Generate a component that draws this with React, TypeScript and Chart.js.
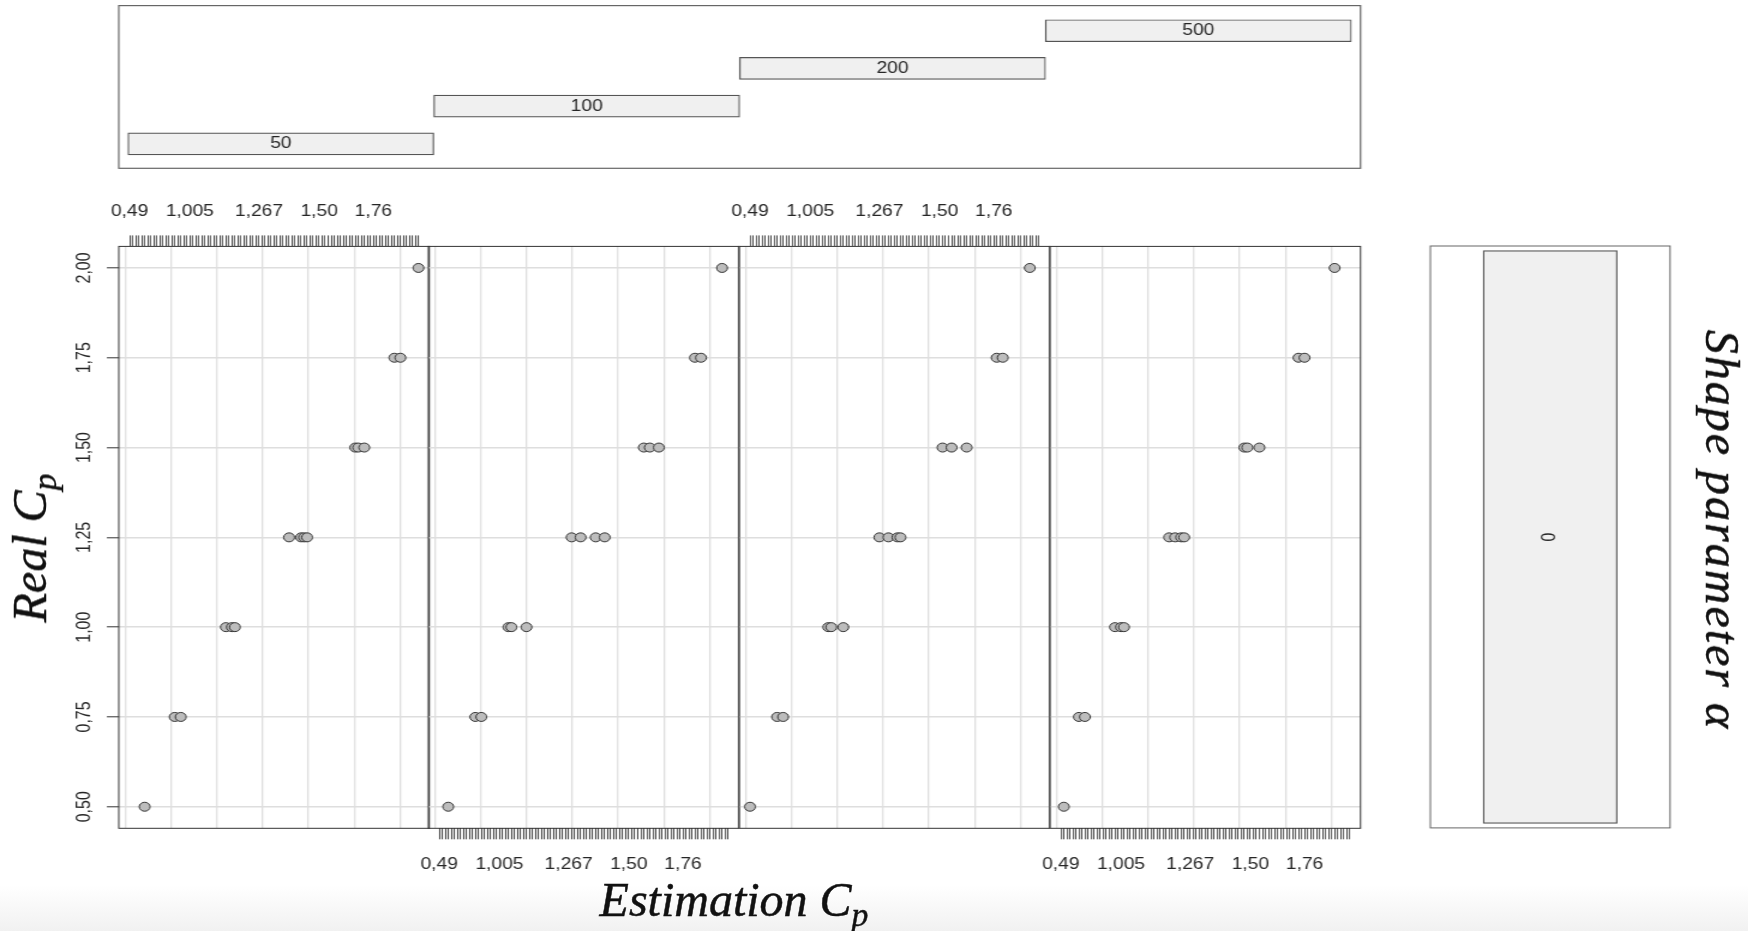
import React, { useEffect, useRef } from 'react';
import { Chart, registerables } from 'chart.js';

Chart.register(...registerables);

// ---------------- data ----------------
const SAMPLE_SIZES = ['50', '100', '200', '500'];
const SHAPE_LEVELS = ['0'];
const REAL_CP_TICKS = [0.5, 0.75, 1.0, 1.25, 1.5, 1.75, 2.0];
const REAL_CP_TICK_LABELS = ['0,50', '0,75', '1,00', '1,25', '1,50', '1,75', '2,00'];
// the estimation axis is a factor with 97 levels; only some are labelled
const EST_LEVEL_COUNT = 97;
const EST_LABEL_POS = [0, 20, 43, 63, 81];
const EST_LABELS = ['0,49', '1,005', '1,267', '1,50', '1,76'];
const EST_GRID_POS = [-1.2, 13.7, 29.0, 44.2, 59.4, 74.7, 90.0];

const REAL_CP_VALUES = [0.5, 0.75, 0.75, 1, 1, 1, 1.25, 1.25, 1.25, 1.25, 1.5, 1.5, 1.5, 1.75, 1.75, 2];
const EST_N50 = [5, 15, 17, 32, 34, 35, 53, 57, 58, 59, 75, 76, 78, 88, 90, 96];
const EST_N100 = [3, 12, 14, 23, 24, 29, 44, 47, 52, 55, 68, 70, 73, 85, 87, 94];
const EST_N200 = [0, 9, 11, 26, 27, 31, 43, 46, 49, 50, 64, 67, 72, 82, 84, 93];
const EST_N500 = [1, 6, 8, 18, 20, 21, 36, 38, 40, 41, 61, 62, 66, 79, 81, 91];

const PANEL_EST = [EST_N50, EST_N100, EST_N200, EST_N500];
const PANEL_AXIS: ('top' | 'bottom')[] = ['top', 'bottom', 'top', 'bottom'];

// ---------------- layout ----------------
const SX = 1.2; // horizontal stretch of the original figure
const FULL_W = 1748;
const FULL_H = 931;
const INNER_W = FULL_W / SX;

const PANEL_LEFT = 118.3 / SX;
const PANEL_W = 310.5 / SX;
const PANEL_TOP = 246.4;
const PANEL_BOTTOM = 828.3;
const X_MIN = -3.6;
const X_MAX = 99.6;
const Y_MIN = 0.44;
const Y_MAX = 2.06;

const TICK_FAMILY = '"Liberation Sans", Arial, Helvetica, sans-serif';
const TEXT_COLOR = '#262626';
const GRID_COLOR = '#dedede';
const STRIP_BG = '#f0f0f0';
const STRIP_BORDER = '#555555';

const framePlugin = {
  id: 'frame',
  afterDraw(chart: any, _args: any, opts: any) {
    if (!opts || !opts.color) return;
    const { ctx, chartArea: a } = chart;
    ctx.save();
    ctx.strokeStyle = opts.color;
    ctx.lineWidth = opts.width;
    ctx.strokeRect(a.left, a.top, a.right - a.left, a.bottom - a.top);
    ctx.restore();
  },
};

function makeYLabelPlugin(offset: number) {
  return {
    id: 'yLabels',
    afterDraw(chart: any) {
      const y = chart.scales.y;
      const ctx = chart.ctx;
      ctx.save();
      ctx.font = `16px ${TICK_FAMILY}`;
      ctx.fillStyle = TEXT_COLOR;
      ctx.textAlign = 'center';
      ctx.textBaseline = 'middle';
      REAL_CP_TICKS.forEach((v, k) => {
        const py = y.getPixelForValue(v);
        ctx.save();
        ctx.translate(chart.chartArea.left - offset, py);
        ctx.rotate(-Math.PI / 2);
        ctx.fillText(REAL_CP_TICK_LABELS[k], 0, 0);
        ctx.restore();
      });
      ctx.restore();
    },
  };
}

function makeBarTextPlugin(labels: string[], font: string, rotate: number) {
  return {
    id: 'barText',
    afterDatasetsDraw(chart: any) {
      const meta = chart.getDatasetMeta(0);
      const ctx = chart.ctx;
      ctx.save();
      ctx.font = font;
      ctx.fillStyle = TEXT_COLOR;
      ctx.textAlign = 'center';
      ctx.textBaseline = 'middle';
      meta.data.forEach((el: any, k: number) => {
        const c = el.getCenterPoint();
        ctx.save();
        ctx.translate(c.x, c.y);
        if (rotate) ctx.rotate(rotate);
        ctx.fillText(labels[k], 0, 0);
        ctx.restore();
      });
      ctx.restore();
    },
  };
}

const fixH = (h: number) => (s: any) => {
  s.height = h;
  s.paddingLeft = 0;
  s.paddingRight = 0;
  s.paddingTop = 0;
  s.paddingBottom = 0;
};
const zeroW = (s: any) => {
  s.width = 0;
  s.paddingLeft = 0;
  s.paddingRight = 0;
  s.paddingTop = 0;
  s.paddingBottom = 0;
};

function ChartCanvas(props: { left: number; top: number; width: number; height: number; make: () => any }) {
  const ref = useRef<HTMLCanvasElement>(null);
  useEffect(() => {
    const chart = new Chart(ref.current as HTMLCanvasElement, props.make());
    return () => chart.destroy();
  }, []);
  return (
    <canvas
      ref={ref}
      width={props.width}
      height={props.height}
      style={{ position: 'absolute', left: props.left, top: props.top, width: props.width, height: props.height, display: 'block' }}
    />
  );
}

// ---------- panel ----------
function panelSpec(i: number) {
  const padL = i === 0 ? 50 : 25;
  const areaLeft = PANEL_LEFT + i * PANEL_W;
  const width = Math.ceil(PANEL_W + padL + 25);
  const padR = width - PANEL_W - padL;
  const top = 180;
  const height = 710;
  const padT = PANEL_TOP - top;
  const padB = top + height - PANEL_BOTTOM;
  const est = PANEL_EST[i];
  const axisPos = PANEL_AXIS[i];
  const isTop = axisPos === 'top';
  const make = () => ({
    type: 'scatter',
    data: {
      datasets: [
        {
          data: est.map((x, k) => ({ x, y: REAL_CP_VALUES[k] })),
          xAxisID: 'x',
          yAxisID: 'y',
          pointRadius: 4.5,
          pointBackgroundColor: '#bdbdbd',
          pointBorderColor: '#333333',
          pointBorderWidth: 1,
          showLine: false,
        },
      ],
    },
    options: {
      animation: false,
      responsive: false,
      events: [],
      layout: { padding: { left: padL, right: padR, top: isTop ? 0 : padT, bottom: isTop ? padB : 0 } },
      plugins: {
        legend: { display: false },
        tooltip: { enabled: false },
        frame: { color: '#333333', width: 1 },
      },
      scales: {
        x: {
          type: 'linear',
          position: axisPos,
          min: X_MIN,
          max: X_MAX,
          offset: false,
          afterBuildTicks: (s: any) => {
            s.ticks = Array.from({ length: EST_LEVEL_COUNT }, (_, k) => ({ value: k }));
          },
          afterFit: fixH(isTop ? padT : padB),
          border: { display: false },
          grid: { drawOnChartArea: false, drawTicks: true, tickLength: 11, tickColor: '#333333', tickWidth: 0.9, color: '#333333' },
          ticks: {
            autoSkip: false,
            maxRotation: 0,
            minRotation: 0,
            padding: isTop ? 14 : 16,
            color: TEXT_COLOR,
            font: { family: TICK_FAMILY, size: 16 },
            callback: (v: any) => {
              const k = EST_LABEL_POS.indexOf(Number(v));
              return k >= 0 ? EST_LABELS[k] : '';
            },
          },
        },
        xg: {
          type: 'linear',
          position: isTop ? 'bottom' : 'top',
          min: X_MIN,
          max: X_MAX,
          offset: false,
          afterBuildTicks: (s: any) => {
            s.ticks = EST_GRID_POS.map((v) => ({ value: v }));
          },
          afterFit: fixH(0),
          border: { display: false },
          grid: { color: GRID_COLOR, lineWidth: 1.3, drawTicks: false },
          ticks: { display: false },
        },
        y: {
          type: 'linear',
          position: 'left',
          min: Y_MIN,
          max: Y_MAX,
          offset: false,
          afterBuildTicks: (s: any) => {
            s.ticks = REAL_CP_TICKS.map((v) => ({ value: v }));
          },
          afterFit: zeroW,
          border: { display: false },
          grid: { color: GRID_COLOR, lineWidth: 1.6, drawTicks: i === 0, tickLength: 10, tickColor: '#333333', tickWidth: 1 },
          ticks: { display: false },
        },
      },
    },
    plugins: i === 0 ? [framePlugin, makeYLabelPlugin(28.9)] : [framePlugin],
  });
  return { left: areaLeft - padL, top, width, height, make };
}

// ---------- top strips (sample size) ----------
function stripSpec() {
  const areaLeft = 118.3 / SX;
  const areaW = 1360 / SX - areaLeft;
  const width = Math.ceil(areaW + 20);
  const padR = width - 10 - areaW;
  const height = 180;
  const make = () => ({
    type: 'bar',
    data: {
      datasets: [
        {
          data: SAMPLE_SIZES.map((_, k) => ({ x: [k, k + 1], y: k + 1 })),
          backgroundColor: STRIP_BG,
          borderColor: STRIP_BORDER,
          borderWidth: 1.2,
          borderSkipped: false,
          barThickness: 22,
        },
      ],
    },
    options: {
      animation: false,
      responsive: false,
      events: [],
      indexAxis: 'y',
      layout: { padding: { left: 10, right: padR, top: 5.6, bottom: height - 168.3 } },
      plugins: {
        legend: { display: false },
        tooltip: { enabled: false },
        frame: { color: '#666666', width: 1.2 },
      },
      scales: {
        x: { type: 'linear', min: -0.03, max: 4.03, display: false, offset: false },
        y: { type: 'linear', min: 0.35, max: 4.666, display: false, offset: false, grace: 0 },
      },
    },
    plugins: [framePlugin, makeBarTextPlugin(SAMPLE_SIZES, `16px ${TICK_FAMILY}`, 0)],
  });
  return { left: areaLeft - 10, top: 0, width, height, make };
}

// ---------- shape parameter key ----------
function shapeSpec() {
  const areaLeft = 1430.3 / SX;
  const areaW = 1670 / SX - areaLeft;
  const width = Math.ceil(areaW + 20);
  const padR = width - 10 - areaW;
  const top = PANEL_TOP - 10;
  const height = Math.ceil(PANEL_BOTTOM - PANEL_TOP + 20);
  const padB = height - 10 - (PANEL_BOTTOM - PANEL_TOP);
  const make = () => ({
    type: 'bar',
    data: {
      labels: SHAPE_LEVELS,
      datasets: [
        {
          data: SHAPE_LEVELS.map(() => [0, 1]),
          backgroundColor: STRIP_BG,
          borderColor: STRIP_BORDER,
          borderWidth: 1.2,
          borderSkipped: false,
          barThickness: 133.8 / SX,
        },
      ],
    },
    options: {
      animation: false,
      responsive: false,
      events: [],
      layout: { padding: { left: 10, right: padR, top: 10, bottom: padB } },
      plugins: {
        legend: { display: false },
        tooltip: { enabled: false },
        frame: { color: '#666666', width: 1 },
      },
      scales: {
        x: { type: 'category', display: false },
        y: { type: 'linear', min: -0.008, max: 1.008, display: false },
      },
    },
    plugins: [framePlugin, makeBarTextPlugin(SHAPE_LEVELS, `16px ${TICK_FAMILY}`, -Math.PI / 2)],
  });
  return { left: areaLeft - 10, top, width, height, make };
}

const TITLE_FONT: React.CSSProperties = {
  fontFamily: '"Liberation Serif", "DejaVu Serif", serif',
  fontStyle: 'italic',
  fontSize: 48,
  lineHeight: '48px',
  color: '#111',
  whiteSpace: 'nowrap',
  position: 'absolute',
  WebkitTextStroke: '0.5px #111',
};

const Sub = () => (
  <span style={{ fontSize: '0.7em', verticalAlign: '-10px', lineHeight: 0 }}>p</span>
);

export default function App() {
  const panels = [0, 1, 2, 3].map((i) => panelSpec(i));
  const strip = stripSpec();
  const shape = shapeSpec();
  return (
    <div
      style={{
        position: 'fixed',
        left: 0,
        top: 0,
        width: FULL_W,
        height: FULL_H,
        overflow: 'hidden',
        background: 'linear-gradient(to bottom, #ffffff 0px, #ffffff 885px, #f1f1f1 931px)',
      }}
    >
      <div
        style={{
          position: 'absolute',
          left: 0,
          top: 0,
          width: INNER_W,
          height: FULL_H,
          transform: `scaleX(${SX})`,
          transformOrigin: '0 0',
        }}
      >
        <ChartCanvas {...strip} />
        {panels.map((p, i) => (
          <ChartCanvas key={i} {...p} />
        ))}
        <ChartCanvas {...shape} />
      </div>
      <div style={{ ...TITLE_FONT, left: 30, top: 548, transform: 'translate(-50%, -50%) rotate(-90deg)' }}>
        Real C<Sub />
      </div>
      <div style={{ ...TITLE_FONT, left: 734, top: 876, transform: 'translateX(-50%)' }}>
        Estimation C<Sub />
      </div>
      <div
        style={{
          ...TITLE_FONT,
          left: 1722,
          top: 530,
          letterSpacing: '2px',
          transform: 'translate(-50%, -50%) rotate(90deg)',
        }}
      >
        Shape parameter α
      </div>
    </div>
  );
}
